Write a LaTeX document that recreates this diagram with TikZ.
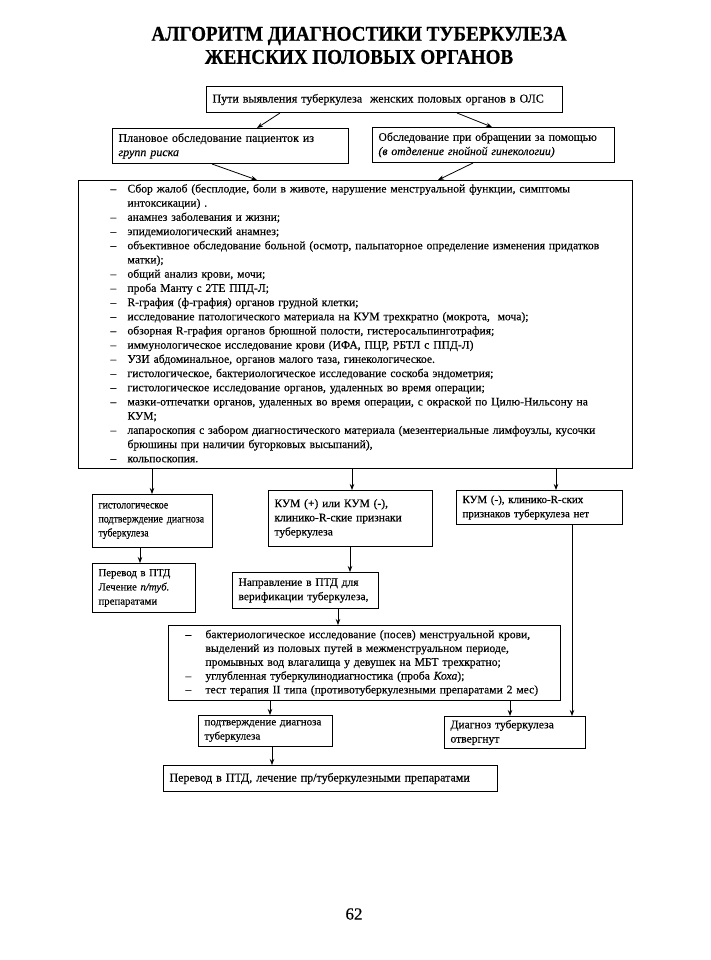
\documentclass[tikz,border=0pt]{standalone}
\usepackage{fontspec}
\setmainfont{Liberation Serif}[FakeBold=0.3]
\newfontfamily\ttlfont{Liberation Serif Bold}[FakeBold=0.5, FakeStretch=0.91]
\newfontfamily\condfont{Liberation Serif}[FakeBold=0.3, FakeStretch=0.86]
\usetikzlibrary{arrows.meta}
\newcommand\fs[1]{\fontsize{#1}{14.2}\selectfont}
\tikzset{
  box/.style={draw, line width=1pt, anchor=north west, inner xsep=6pt, inner ysep=1pt, align=left, font=\fs{11.6}},
  arr/.style={-{Stealth[length=6pt,width=4.5pt]}, line width=0.8pt},
  ttl/.style={font=\ttlfont\fontsize{21}{22}\selectfont, inner sep=0pt},
}
\begin{document}
\begin{tikzpicture}[x=1pt,y=-1pt]
\useasboundingbox (0,0) rectangle (710,960);
% title
\node[ttl] (title1) at (359,36) {АЛГОРИТМ ДИАГНОСТИКИ ТУБЕРКУЛЕЗА};
\node[ttl] (title2) at (359,57) {ЖЕНСКИХ ПОЛОВЫХ ОРГАНОВ};
% boxes
\node[box, font=\fs{12}, minimum width=356pt, minimum height=26pt, text width=344pt] (T) at (206,86)
  {Пути выявления туберкулеза\ \ женских половых органов в ОЛС};
\node[box, font=\fs{12}, minimum width=236pt, minimum height=35pt, text width=224pt] (L) at (112,128)
  {\mbox{Плановое обследование пациенток из}\\ \textit{групп риска}};
\node[box, font=\fs{11.7}, minimum width=242pt, minimum height=35pt, text width=230pt] (R) at (372,127)
  {\mbox{Обследование при обращении за помощью}\\ \mbox{\textit{(в отделение гнойной гинекологии)}}};
\node[box, inner xsep=32pt, minimum width=554pt, minimum height=288pt, text width=490pt] (B) at (78,180)
  {\begin{tabular}{@{}p{17pt}@{}l@{}}
  – & Сбор жалоб (бесплодие, боли в животе, нарушение менструальной функции, симптомы\\
    & интоксикации) .\\
  – & анамнез заболевания и жизни;\\
  – & эпидемиологический анамнез;\\
  – & объективное обследование больной (осмотр, пальпаторное определение изменения придатков\\
    & матки);\\
  – & общий анализ крови, мочи;\\
  – & проба Манту с 2ТЕ ППД-Л;\\
  – & R-графия (ф-графия) органов грудной клетки;\\
  – & исследование патологического материала на КУМ трехкратно (мокрота,\ \ моча);\\
  – & обзорная R-графия органов брюшной полости, гистеросальпинготрафия;\\
  – & иммунологическое исследование крови (ИФА, ПЦР, РБТЛ с ППД-Л)\\
  – & УЗИ абдоминальное, органов малого таза, гинекологическое.\\
  – & гистологическое, бактериологическое исследование соскоба эндометрия;\\
  – & гистологическое исследование органов, удаленных во время операции;\\
  – & мазки-отпечатки органов, удаленных во время операции, с окраской по Цилю-Нильсону на\\
    & КУМ;\\
  – & лапароскопия с забором диагностического материала (мезентериальные лимфоузлы, кусочки\\
    & брюшины при наличии бугорковых высыпаний),\\
  – & кольпоскопия.
  \end{tabular}};
\node[box, font=\condfont\fontsize{11.5}{14}\selectfont, minimum width=120pt, minimum height=53pt, text width=108pt] (A) at (92,494)
  {\mbox{гистологическое}\\ \mbox{подтверждение диагноза}\\ \mbox{туберкулеза}};
\node[box, font=\fs{11.5}, minimum width=164pt, minimum height=56pt, text width=152pt] (KB) at (268,490)
  {\mbox{КУМ (+) или КУМ (-),}\\ \mbox{клинико-R-ские признаки}\\ \mbox{туберкулеза}};
\node[box, font=\fs{11}, minimum width=166pt, minimum height=34pt, text width=154pt] (C) at (456,490)
  {\mbox{КУМ (-), клинико-R-ских}\\ \mbox{признаков туберкулеза нет}};
\node[box, font=\fs{10.8}, minimum width=103pt, minimum height=49pt, text width=91pt] (D) at (92,563)
  {\mbox{Перевод в ПТД}\\ \mbox{Лечение \textit{п/туб.}}\\ \mbox{препаратами}};
\node[box, font=\fs{11.5}, minimum width=146pt, minimum height=36pt, text width=134pt] (E) at (232,572)
  {\mbox{Направление в ПТД для}\\ \mbox{верификации туберкулеза,}};
\node[box, inner xsep=17pt, minimum width=392pt, minimum height=75pt, text width=358pt] (F) at (168,625)
  {\fontsize{11.6}{13.8}\selectfont
  \begin{tabular}{@{}p{20pt}@{}l@{}}
  – & бактериологическое исследование (посев) менструальной крови,\\
    & выделений из половых путей в межменструальном периоде,\\
    & промывных вод влагалища у девушек на МБТ трехкратно;\\
  – & углубленная туберкулинодиагностика (проба \textit{Коха});\\
  – & тест терапия II типа (противотуберкулезными препаратами 2 мес)
  \end{tabular}};
\node[box, font=\fs{11}, minimum width=134pt, minimum height=31pt, text width=122pt] (G) at (198,715)
  {\mbox{подтверждение диагноза}\\ \mbox{туберкулеза}};
\node[box, font=\fs{11.6}, minimum width=141pt, minimum height=32pt, text width=129pt] (H) at (444,716)
  {\mbox{Диагноз туберкулеза}\\ \mbox{отвергнут}};
\node[box, font=\fs{12}, minimum width=334pt, minimum height=26pt, text width=322pt] (I) at (163,765)
  {Перевод в ПТД, лечение пр/туберкулезными препаратами};
\node[font=\fontsize{17}{17}\selectfont, inner sep=0pt] (pnum) at (354,914) {62};
% connectors
\draw[arr] ([xshift=74pt]T.south west) -- ([xshift=145pt]L.north west);
\draw[arr] ([xshift=251pt]T.south west) -- ([xshift=120pt]R.north west);
\draw[arr] ([xshift=100pt]L.south west) -- ([xshift=179pt]B.north west);
\draw[arr] ([xshift=101pt]R.south west) -- ([xshift=360pt]B.north west);
\draw[arr] ([xshift=74pt]B.south west) -- ([xshift=60pt]A.north west);
\draw[arr] ([xshift=274pt]B.south west) -- ([xshift=84pt]KB.north west);
\draw[arr] ([xshift=478pt]B.south west) -- ([xshift=100pt]C.north west);
\draw[arr] ([xshift=48pt]A.south west) -- ([xshift=48pt]D.north west);
\draw[arr] ([xshift=82pt]KB.south west) -- ([xshift=118pt]E.north west);
\draw[arr] ([xshift=106pt]E.south west) -- ([xshift=170pt]F.north west);
\draw[arr] ([xshift=102pt]F.south west) -- ([xshift=72pt]G.north west);
\draw[arr] ([xshift=342pt]F.south west) -- ([xshift=66pt]H.north west);
\draw[arr] ([xshift=116pt]C.south west) -- ([xshift=128pt]H.north west);
\draw[arr] ([xshift=74pt]G.south west) -- ([xshift=109pt]I.north west);
\end{tikzpicture}
\end{document}
